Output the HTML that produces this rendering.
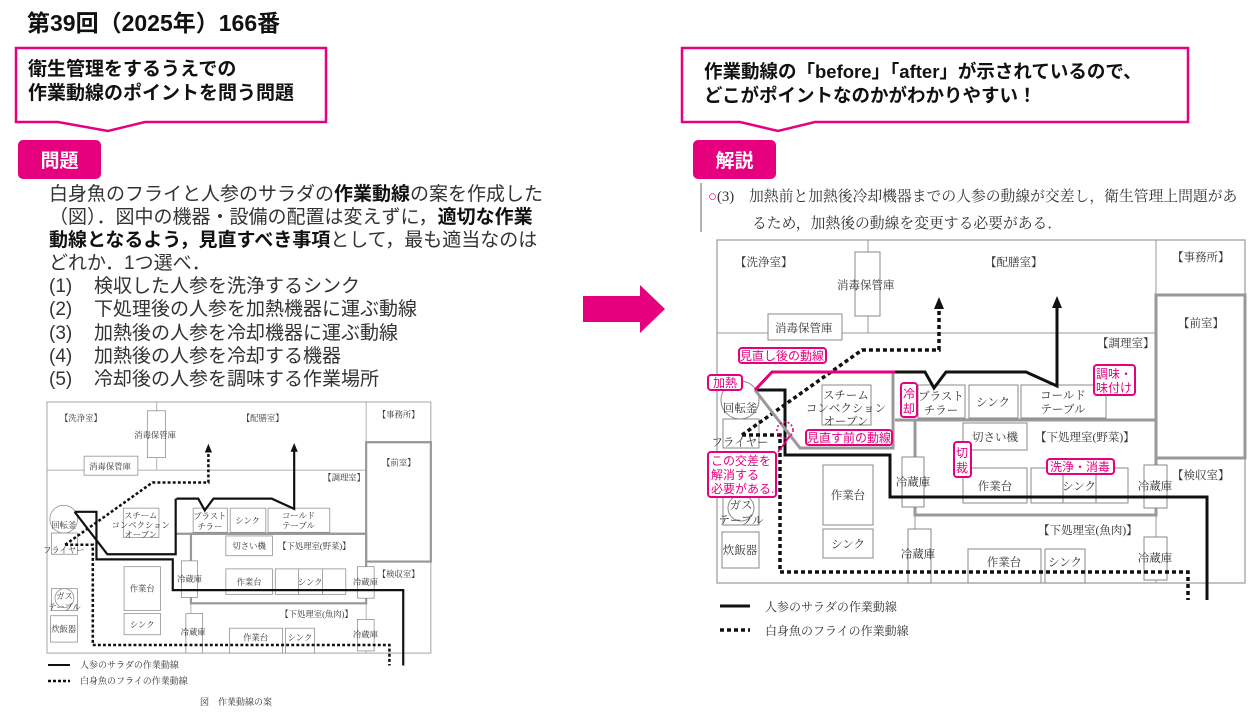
<!DOCTYPE html>
<html><head><meta charset="utf-8"><style>
body{margin:0;width:1255px;height:715px;background:#fff;position:relative;overflow:hidden;font-family:"Liberation Sans","Noto Sans CJK JP",sans-serif;}
.a{position:absolute;}
.t{position:absolute;white-space:nowrap;}
.n{display:inline-block;width:45px;}
</style></head><body>
<div class="t" style="left:27px;top:4px;font-size:23px;font-weight:bold;color:#111;">第39回（2025年）166番</div>

<svg class="a" style="left:0;top:0" width="1255" height="715">
<polygon points="16,48 326,48 326,122 145,122 108,131 58,122 16,122" fill="#fff" stroke="#e6007e" stroke-width="2.5"/>
<polygon points="682,48 1188,48 1188,122 815,122 778,131 740,122 682,122" fill="#fff" stroke="#e6007e" stroke-width="2.5"/>
<rect x="18" y="140" width="83" height="39" rx="5" fill="#e6007e"/>
<rect x="693" y="140" width="83" height="39" rx="5" fill="#e6007e"/>
<polygon points="583,296 640,296 640,285 665,309 640,333 640,322 583,322" fill="#e6007e"/>
<line x1="701" y1="183" x2="701" y2="232" stroke="#999" stroke-width="1.5"/>
</svg>
<div class="t" style="left:28px;top:58px;font-size:19px;font-weight:bold;line-height:24px;color:#111;">衛生管理をするうえでの<br>作業動線のポイントを問う問題</div>
<div class="t" style="left:704px;top:60px;font-size:18.5px;font-weight:bold;line-height:24px;color:#111;">作業動線の「before」「after」が示されているので、<br>どこがポイントなのかがわかりやすい！</div>
<div class="t" style="left:18px;top:146px;width:83px;text-align:center;font-size:19px;font-weight:bold;color:#fff;">問題</div>
<div class="t" style="left:693px;top:146px;width:83px;text-align:center;font-size:19px;font-weight:bold;color:#fff;">解説</div>

<div class="t" style="left:49px;top:183px;font-size:19px;line-height:23.1px;color:#333;">
白身魚のフライと人参のサラダの<b style="color:#111">作業動線</b>の案を作成した<br>
（図）．図中の機器・設備の配置は変えずに，<b style="color:#111">適切な作業</b><br>
<b style="color:#111">動線となるよう，見直すべき事項</b>として，最も適当なのは<br>
どれか．1つ選べ．<br>
<span class="n">(1)</span>検収した人参を洗浄するシンク<br>
<span class="n">(2)</span>下処理後の人参を加熱機器に運ぶ動線<br>
<span class="n">(3)</span>加熱後の人参を冷却機器に運ぶ動線<br>
<span class="n">(4)</span>加熱後の人参を冷却する機器<br>
<span class="n">(5)</span>冷却後の人参を調味する作業場所</div>

<div class="t" style="left:708px;top:184px;font-family:'Liberation Serif','Noto Serif CJK SC',serif;font-size:14.8px;line-height:27px;color:#333;"><span style="color:#e6007e">○</span>(3)　加熱前と加熱後冷却機器までの人参の動線が交差し，衛生管理上問題があ<br><span style="margin-left:44px">るため，加熱後の動線を変更する必要がある．</span></div>

<svg class="a" style="left:0;top:0" width="1255" height="715" font-family="'Liberation Serif','Noto Serif CJK JP',serif">
<defs>
<g id="base">
<rect x="717" y="240" width="528" height="343" fill="none" stroke="#999" stroke-width="1.2"/>
<line x1="868" y1="240" x2="868" y2="333" stroke="#999"/>
<line x1="717" y1="333" x2="1156" y2="333" stroke="#999"/>
<line x1="1156" y1="240" x2="1156" y2="583" stroke="#999"/>
<line x1="1156" y1="294" x2="1245" y2="294" stroke="#999"/>
<rect x="1156" y="295" width="89" height="163" fill="none" stroke="#999" stroke-width="3"/>
<line x1="895" y1="420" x2="1156" y2="420" stroke="#999" stroke-width="3"/>
<rect x="915" y="420" width="241" height="95" fill="none" stroke="#999" stroke-width="3"/>
<line x1="915" y1="515" x2="915" y2="583" stroke="#999"/>
<g fill="#fff" stroke="#888" stroke-width="1">
<rect x="855" y="252" width="25" height="64"/>
<rect x="768" y="314" width="74" height="26"/>
<rect x="822" y="385" width="49" height="40"/>
<rect x="918" y="385" width="47" height="33"/>
<rect x="969" y="385" width="49" height="33"/>
<rect x="1021" y="385" width="85" height="33"/>
<rect x="963" y="423" width="64" height="27"/>
<rect x="963" y="468" width="64" height="35"/>
<rect x="1031" y="468" width="97" height="35"/>
<rect x="902" y="457" width="22" height="50"/>
<rect x="1144" y="465" width="23" height="43"/>
<rect x="823" y="465" width="50" height="60"/>
<rect x="823" y="529" width="50" height="29"/>
<rect x="908" y="529" width="23" height="54"/>
<rect x="968" y="549" width="73" height="34"/>
<rect x="1045" y="549" width="40" height="34"/>
<rect x="1144" y="537" width="23" height="43"/>
<circle cx="740" cy="400" r="19"/>
<rect x="723" y="419" width="36" height="29"/>
<rect x="723" y="495" width="36" height="30"/>
<circle cx="741" cy="508" r="13"/>
<rect x="722" y="532" width="37" height="36"/>
</g>
<line x1="1063" y1="468" x2="1063" y2="503" stroke="#888"/>
<line x1="1096" y1="468" x2="1096" y2="503" stroke="#888"/>
<g font-size="11.5" fill="#333">
<text x="735" y="266">【洗浄室】</text>
<text x="985" y="266">【配膳室】</text>
<text x="1172" y="261">【事務所】</text>
<text x="1178" y="327">【前室】</text>
<text x="1097" y="347">【調理室】</text>
<text x="1172" y="479">【検収室】</text>
<text x="1035" y="441">【下処理室(野菜)】</text>
<text x="1038" y="534">【下処理室(魚肉)】</text>
<text x="837" y="289">消毒保管庫</text>
<text x="775" y="332">消毒保管庫</text>
<text x="846" y="399" text-anchor="middle">スチーム</text>
<text x="846" y="412" text-anchor="middle">コンベクション</text>
<text x="846" y="425" text-anchor="middle">オーブン</text>
<text x="941" y="400" text-anchor="middle">ブラスト</text>
<text x="941" y="414" text-anchor="middle">チラー</text>
<text x="993" y="406" text-anchor="middle">シンク</text>
<text x="1063" y="399" text-anchor="middle">コールド</text>
<text x="1063" y="413" text-anchor="middle">テーブル</text>
<text x="995" y="441" text-anchor="middle">切さい機</text>
<text x="995" y="490" text-anchor="middle">作業台</text>
<text x="1079" y="490" text-anchor="middle">シンク</text>
<text x="913" y="486" text-anchor="middle">冷蔵庫</text>
<text x="1155" y="490" text-anchor="middle">冷蔵庫</text>
<text x="848" y="499" text-anchor="middle">作業台</text>
<text x="848" y="548" text-anchor="middle">シンク</text>
<text x="918" y="558" text-anchor="middle">冷蔵庫</text>
<text x="1004" y="566" text-anchor="middle">作業台</text>
<text x="1065" y="566" text-anchor="middle">シンク</text>
<text x="1155" y="562" text-anchor="middle">冷蔵庫</text>
<text x="740" y="412" text-anchor="middle">回転釜</text>
<text x="740" y="446" text-anchor="middle">フライヤー</text>
<text x="741" y="509" text-anchor="middle">ガス</text>
<text x="741" y="524" text-anchor="middle">テーブル</text>
<text x="740" y="554" text-anchor="middle">炊飯器</text>
</g>
<polyline points="755,390 785,390 785,455 890,455 890,497 1207,497 1207,600" fill="none" stroke="#111" stroke-width="3"/>
<polyline points="895,372 925,372 934,388 946,372 1026,372 1057,386 1057,307" fill="none" stroke="#111" stroke-width="3"/>
<polygon points="1057,296 1052,308 1062,308" fill="#111"/>
<polyline points="742,435 862,350 939,350 939,307" fill="none" stroke="#111" stroke-width="3.5" stroke-dasharray="4,3"/>
<polygon points="939,297 934,309 944,309" fill="#111"/>
<polyline points="742,435 780,435 780,572 1188,572 1188,600" fill="none" stroke="#111" stroke-width="3.5" stroke-dasharray="4,3"/>
</g>
</defs>

<use href="#base"/>
<polyline points="755,390 800,448 893,448 893,372" fill="none" stroke="#999" stroke-width="3"/>
<polyline points="755,390 772,372 895,372" fill="none" stroke="#e6007e" stroke-width="3"/>
<circle cx="785" cy="430" r="8" fill="none" stroke="#e6007e" stroke-width="1.5" stroke-dasharray="2,2"/>
<line x1="790" y1="436" x2="778" y2="452" stroke="#e6007e" stroke-width="1.5"/>
<g fill="#fff" stroke="#e6007e" stroke-width="2">
<rect x="739" y="348" width="87" height="15" rx="3"/>
<rect x="708" y="375" width="34" height="15" rx="3"/>
<rect x="901" y="383" width="16" height="34" rx="3"/>
<rect x="1094" y="365" width="41" height="30" rx="3"/>
<rect x="806" y="430" width="86" height="15" rx="3"/>
<rect x="708" y="452" width="68" height="45" rx="3"/>
<rect x="954" y="442" width="17" height="35" rx="3"/>
<rect x="1047" y="459" width="67" height="15" rx="3"/>
</g>
<g font-family="'Liberation Sans','Noto Sans CJK JP',sans-serif" font-size="12" fill="#e6007e">
<text x="782" y="360" text-anchor="middle">見直し後の動線</text>
<text x="725" y="387" text-anchor="middle">加熱</text>
<text x="909" y="398" text-anchor="middle">冷</text>
<text x="909" y="413" text-anchor="middle">却</text>
<text x="1114" y="378" text-anchor="middle">調味・</text>
<text x="1114" y="392" text-anchor="middle">味付け</text>
<text x="849" y="442" text-anchor="middle">見直す前の動線</text>
<text x="711" y="465">この交差を</text>
<text x="711" y="479">解消する</text>
<text x="711" y="493">必要がある.</text>
<text x="962" y="457" text-anchor="middle">切</text>
<text x="962" y="472" text-anchor="middle">裁</text>
<text x="1080" y="471" text-anchor="middle">洗浄・消毒</text>
</g>
<line x1="720" y1="606" x2="750" y2="606" stroke="#111" stroke-width="3"/>
<line x1="720" y1="630" x2="750" y2="630" stroke="#111" stroke-width="3.5" stroke-dasharray="4,3"/>
<text x="765" y="611" font-size="12" fill="#333">人参のサラダの作業動線</text>
<text x="765" y="635" font-size="12" fill="#333">白身魚のフライの作業動線</text>

<g transform="translate(47,402) scale(0.727,0.732) translate(-717,-240)">
<use href="#base"/>
<polyline points="755,390 800,448 894,448 894,372" fill="none" stroke="#111" stroke-width="3"/>
</g>
<line x1="48" y1="665" x2="70" y2="665" stroke="#111" stroke-width="2"/>
<line x1="48" y1="681" x2="70" y2="681" stroke="#111" stroke-width="2.5" stroke-dasharray="3,2"/>
<text x="80" y="668" font-size="9" fill="#333">人参のサラダの作業動線</text>
<text x="80" y="684" font-size="9" fill="#333">白身魚のフライの作業動線</text>
<text x="200" y="705" font-size="9" fill="#333">図　作業動線の案</text>
</svg>
</body></html>
